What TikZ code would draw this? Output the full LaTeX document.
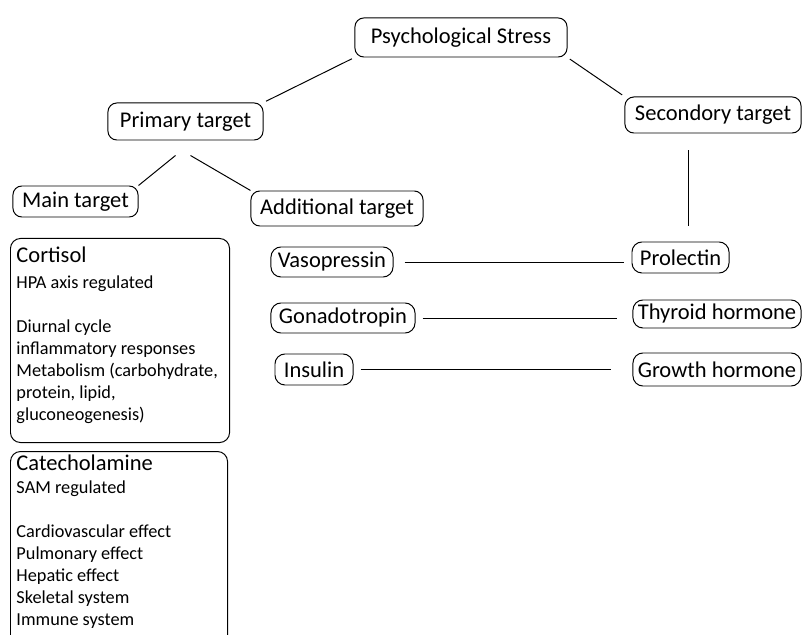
\documentclass[tikz,border=0pt]{standalone}
\usepackage{fontspec}
\setmainfont{Carlito}
\usetikzlibrary{positioning}

\begin{document}
\begin{tikzpicture}[x=0.025cm, y=-0.025cm,
    line width=0.7pt,
    target/.style={rectangle, draw, rounded corners=0.22cm,
                   inner xsep=2pt, inner ysep=1pt,
                   font=\fontsize{16}{19}\selectfont, minimum height=0.75cm},
    hormone/.style={target, rounded corners=0.25cm},
    info/.style={rectangle, draw, rounded corners=0.25cm, anchor=north west,
                 inner xsep=0.15cm, inner ysep=0.2cm, align=left},
]
\useasboundingbox (0,0) rectangle (802,635);
\clip (0,0) rectangle (802,635);

% top of the tree
\node[target, minimum width=5.3cm, minimum height=0.975cm] (stress) at (461,37.5) {Psychological Stress};
\node[target, minimum width=3.875cm, minimum height=0.925cm] (primary) at (185.5,121.5) {Primary target};
\node[target, minimum width=4.4cm, minimum height=0.9cm] (second) at (713,115) {Secondory target};
\node[target, minimum width=3.125cm, minimum height=0.775cm] (main) at (75.5,201.5) {Main target};
\node[target, minimum width=4.3cm, minimum height=0.875cm] (addl) at (337,208.5) {Additional target};

% hormones
\node[hormone, minimum width=3.05cm] (vaso) at (332,262) {Vasopressin};
\node[hormone, minimum width=3.6cm] (gonado) at (343,318) {Gonadotropin};
\node[hormone, minimum width=1.95cm, minimum height=0.775cm] (insulin) at (314,369.5) {Insulin};
\node[hormone, minimum width=2.425cm, minimum height=0.775cm] (prolectin) at (680.5,257.5) {Prolectin};
\node[hormone, minimum width=4.2cm, minimum height=0.7cm] (thyroid) at (717,314) {Thyroid hormone};
\node[hormone, minimum width=4.2cm, minimum height=0.825cm] (growth) at (717,369.5) {Growth hormone};

% main target boxes
\node[info] (cortisol) at (10,238) {\begin{minipage}[t][4.7cm][t]{5.175cm}
\fontsize{13}{15.65}\selectfont
{\fontsize{16}{16}\selectfont Cortisol}\\[3pt]
HPA axis regulated\\[15.65pt]
Diurnal cycle\\
inflammatory responses\\
Metabolism (carbohydrate,\\
protein, lipid,\\
gluconeogenesis)
\end{minipage}};
\node[info, inner ysep=0.08cm, below=0.2cm of cortisol.south west, anchor=north west] (catechol) {\begin{minipage}[t][5cm][t]{5.125cm}
\fontsize{13}{15.65}\selectfont
{\fontsize{16}{16}\selectfont Catecholamine}\\[1pt]
SAM regulated\\[15.65pt]
Cardiovascular effect\\
Pulmonary effect\\
Hepatic effect\\
Skeletal system\\
Immune system
\end{minipage}};

% connectors
\coordinate (pl) at ([shift={(-10,15)}]primary.south);
\coordinate (pr) at ([shift={(5,15)}]primary.south);
\coordinate (sv) at ([shift={(-25,17)}]second.south);

\draw[shorten <=2pt, shorten >=2pt] (stress.south west) -- (primary.north east);
\draw[shorten <=2pt, shorten >=2pt] (stress.south east) -- (second.north west);
\draw (pl) -- (main.north east);
\draw (pr) -- (addl.north west);
\draw[shorten >=0.375cm] (sv) -- (sv |- prolectin.north);
\draw[shorten <=0.275cm, shorten >=0.2cm] (vaso.east) -- (vaso.east -| prolectin.west);
\draw[shorten <=0.175cm, shorten >=0.375cm] (gonado.east) -- (gonado.east -| thyroid.west);
\draw[shorten <=0.175cm, shorten >=0.525cm] (insulin.east) -- (insulin.east -| growth.west);

\end{tikzpicture}
\end{document}
